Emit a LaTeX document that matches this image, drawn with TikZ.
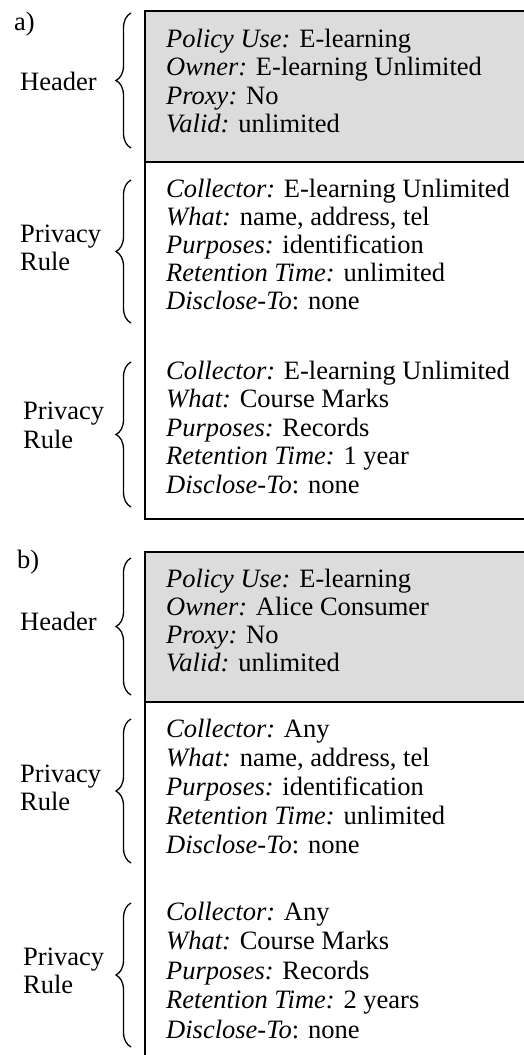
\documentclass[tikz,border=0pt]{standalone}
\usepackage{fontspec}
\setmainfont{Liberation Serif}
\usetikzlibrary{decorations.pathreplacing}
\definecolor{hdrgray}{HTML}{DCDCDC}
\begin{document}
\begin{tikzpicture}[x=1pt,y=-1pt,
  txt/.style={anchor=base west,inner sep=0pt,font=\fontsize{26.5}{28.5}\selectfont},
  lbl/.style={anchor=base west,inner sep=0pt,font=\fontsize{26.5}{28.5}\selectfont},
  brc/.style={decorate,decoration={brace,amplitude=15pt},line width=1.3pt},
  boxline/.style={line width=1.4pt,draw=black}]
\useasboundingbox (0,0) rectangle (524,1055);
% ---------- panel a ----------
\fill[hdrgray] (145,11) rectangle (530,162);
\draw[boxline] (530,11) -- (145,11) -- (145,519) -- (530,519);
\draw[boxline] (145,162) -- (530,162);
\node[lbl] (la) at (14,30) {a)};
\node[txt] (a1) at (166,47) {\textit{Policy Use:} E-learning};
\node[txt] (a2) at (166,75.5) {\textit{Owner:} E-learning Unlimited};
\node[txt] (a3) at (166,104) {\textit{Proxy:} No};
\node[txt] (a4) at (166,132.5) {\textit{Valid:} unlimited};
\node[txt] (a5) at (166,197) {\textit{Collector:} E-learning Unlimited};
\node[txt] (a6) at (166,225) {\textit{What:} name, address, tel};
\node[txt] (a7) at (166,253) {\textit{Purposes:} identification};
\node[txt] (a8) at (166,281) {\textit{Retention Time:} unlimited};
\node[txt] (a9) at (166,309) {\textit{Disclose-To}: none};
\node[txt] (a10) at (166,379) {\textit{Collector:} E-learning Unlimited};
\node[txt] (a11) at (166,407.5) {\textit{What:} Course Marks};
\node[txt] (a12) at (166,436) {\textit{Purposes:} Records};
\node[txt] (a13) at (166,464.5) {\textit{Retention Time:} 1 year};
\node[txt] (a14) at (166,493) {\textit{Disclose-To}: none};
\node[lbl] (ah) at (20,90) {Header};
\node[lbl] (ap1) at (20,242) {Privacy};
\node[lbl] (ar1) at (20,270) {Rule};
\node[lbl] (ap2) at (23,419) {Privacy};
\node[lbl] (ar2) at (23,448) {Rule};
\coordinate (ahb) at (131,148); \coordinate (aht) at (131,13);
\coordinate (a1b) at (131,323); \coordinate (a1t) at (131,180);
\coordinate (a2b) at (131,507); \coordinate (a2t) at (131,362);
\draw[brc] (ahb) -- (aht);
\draw[brc] (a1b) -- (a1t);
\draw[brc] (a2b) -- (a2t);
% ---------- panel b ----------
\fill[hdrgray] (145,552) rectangle (530,702);
\draw[boxline] (530,552) -- (145,552) -- (145,1060);
\draw[boxline] (145,702) -- (530,702);
\node[lbl] (lb) at (17,568) {b)};
\node[txt] (b1) at (166,587) {\textit{Policy Use:} E-learning};
\node[txt] (b2) at (166,615) {\textit{Owner:} Alice Consumer};
\node[txt] (b3) at (166,643) {\textit{Proxy:} No};
\node[txt] (b4) at (166,671) {\textit{Valid:} unlimited};
\node[txt] (b5) at (166,737) {\textit{Collector:} Any};
\node[txt] (b6) at (166,766) {\textit{What:} name, address, tel};
\node[txt] (b7) at (166,795) {\textit{Purposes:} identification};
\node[txt] (b8) at (166,824) {\textit{Retention Time:} unlimited};
\node[txt] (b9) at (166,853) {\textit{Disclose-To}: none};
\node[txt] (b10) at (166,920) {\textit{Collector:} Any};
\node[txt] (b11) at (166,949.5) {\textit{What:} Course Marks};
\node[txt] (b12) at (166,979) {\textit{Purposes:} Records};
\node[txt] (b13) at (166,1008.5) {\textit{Retention Time:} 2 years};
\node[txt] (b14) at (166,1038) {\textit{Disclose-To}: none};
\node[lbl] (bh) at (20,630) {Header};
\node[lbl] (bp1) at (20,782) {Privacy};
\node[lbl] (br1) at (20,810) {Rule};
\node[lbl] (bp2) at (23,965) {Privacy};
\node[lbl] (br2) at (23,993) {Rule};
\coordinate (bhb) at (131,695); \coordinate (bht) at (131,558);
\coordinate (b1b) at (131,863); \coordinate (b1t) at (131,719);
\coordinate (b2b) at (131,1047); \coordinate (b2t) at (131,903);
\draw[brc] (bhb) -- (bht);
\draw[brc] (b1b) -- (b1t);
\draw[brc] (b2b) -- (b2t);
\end{tikzpicture}
\end{document}
